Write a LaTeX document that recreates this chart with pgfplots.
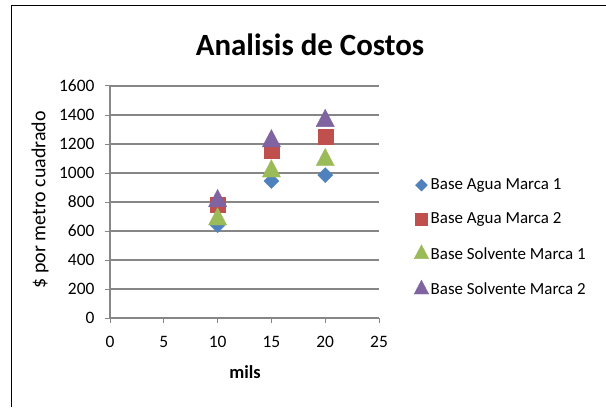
\documentclass[border=0pt]{standalone}
\usepackage{fontspec}
\setmainfont{Carlito}
\usepackage{pgfplots}
\pgfplotsset{compat=1.18}
\definecolor{cblue}{HTML}{4F81BD}
\definecolor{cred}{HTML}{C0504D}
\definecolor{cgreen}{HTML}{9BBB59}
\definecolor{cpurple}{HTML}{8064A2}
\definecolor{gridgray}{HTML}{868686}
\begin{document}
\begin{tikzpicture}[x=1bp,y=1bp]
\path[use as bounding box] (0,0) rectangle (606,407);
\draw[line width=1.6bp, black] (11.5,0) -- (11.5,401.5) -- (606,401.5);
\node[font=\fontsize{31}{36}\selectfont\bfseries] at (310,362) {Analisis de Costos};
\begin{axis}[
  at={(110bp,89bp)}, anchor=south west,
  scale only axis, width=269bp, height=232bp,
  xmin=0, xmax=25, ymin=0, ymax=1600,
  xtick={0,5,...,25}, ytick={0,200,...,1600},
  axis lines*=left,
  axis line style={gridgray, line width=1.2bp},
  ymajorgrids, grid style={gridgray, line width=1.2bp},
  tick align=outside, major tick length=5bp,
  tick style={gridgray, line width=1bp},
  /pgf/number format/assume math mode=true,
  /pgf/number format/1000 sep={},
  ticklabel style={font=\fontsize{17.5}{20}\selectfont},
  yticklabel style={xshift=-7bp},
  xticklabel style={yshift=-10bp},
  xlabel={mils},
  ylabel={\$ por metro cuadrado},
  xlabel style={font=\fontsize{18.5}{22}\selectfont\bfseries, at={(rel axis cs:0.502,-0.233)}, anchor=center},
  ylabel style={font=\fontsize{20}{22}\selectfont, at={(rel axis cs:-0.26,0.51)}, anchor=center, rotate=0},
  legend style={at={(rel axis cs:1.13,0.347)}, anchor=west, draw=none, fill=none,
    font=\fontsize{17}{20}\selectfont, row sep=17.5bp, inner sep=0pt},
  legend cell align=left,
  legend image code/.code={\draw[#1, /tikz/every mark/.append style={scale=0.8}] plot coordinates {(0.2em,0)};},
  clip=false,
]
\addplot[only marks, mark=diamond*, mark size=7.5bp, color=cblue, mark options={xscale=1.33, fill=cblue, draw=cblue}]
  coordinates {(10,640) (15,945) (20,985)};
\addlegendentry{Base Agua Marca 1}
\addplot[only marks, mark=square*, mark size=7.5bp, color=cred, mark options={fill=cred, draw=cred}]
  coordinates {(10,778) (15,1157) (20,1251)};
\addlegendentry{Base Agua Marca 2}
\addplot[only marks, mark=triangle*, mark size=10.5bp, color=cgreen, mark options={yscale=1.1, fill=cgreen, draw=cgreen}]
  coordinates {(10,681) (15,1012) (20,1090)};
\addlegendentry{Base Solvente Marca 1}
\addplot[only marks, mark=triangle*, mark size=10.5bp, color=cpurple, mark options={yscale=1.1, fill=cpurple, draw=cpurple}]
  coordinates {(10,807) (15,1220) (20,1360)};
\addlegendentry{Base Solvente Marca 2}
\end{axis}
\end{tikzpicture}
\end{document}
